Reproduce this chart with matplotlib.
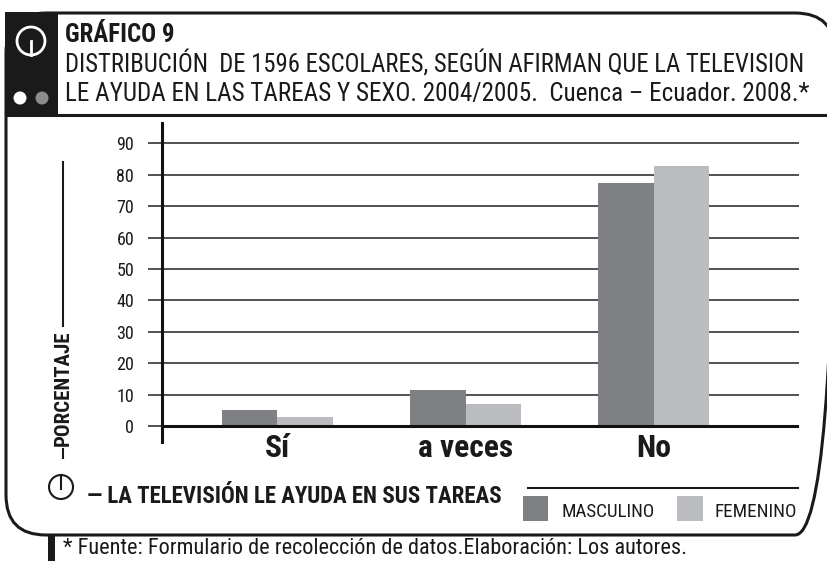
import matplotlib
matplotlib.use('Agg')
import matplotlib.pyplot as plt
from matplotlib import font_manager
from matplotlib.patches import FancyBboxPatch, Rectangle, Circle
import numpy as np

categories = ['Sí', 'a veces', 'No']
masculino = [5.1, 11.4, 77.5]
femenino = [2.9, 7.0, 82.9]
series_labels = ['MASCULINO', 'FEMENINO']
yticks = [0, 10, 20, 30, 40, 50, 60, 70, 80, 90]
title1 = 'GRÁFICO 9'
title2 = 'DISTRIBUCIÓN  DE 1596 ESCOLARES, SEGÚN AFIRMAN QUE LA TELEVISION'
title3 = 'LE AYUDA EN LAS TAREAS Y SEXO. 2004/2005.  Cuenca – Ecuador. 2008.*'
ylabel = 'PORCENTAJE'
xlabel = '— LA TELEVISIÓN LE AYUDA EN SUS TAREAS'
footnote = '* Fuente: Formulario de recolección de datos.Elaboración: Los autores.'

C_M = '#7f8084'
C_F = '#bbbcbf'

names = {f.name for f in font_manager.fontManager.ttflist}
FONT = 'Roboto'
for cand in ['Roboto Condensed', 'Liberation Sans Narrow', 'Open Sans Condensed', 'Roboto']:
    if cand in names:
        FONT = cand
        break
plt.rcParams['font.family'] = [FONT, 'DejaVu Sans']

W, H = 828, 561
fig = plt.figure(figsize=(8.28, 5.61), dpi=100)
bg = fig.add_axes([0, 0, 1, 1])
bg.set_xlim(0, W)
bg.set_ylim(H, 0)
bg.axis('off')

INK = '#1a1a1a'
# frame
frame = FancyBboxPatch((6, 13), 835 - 6, 535 - 13,
                       boxstyle='round,pad=0,rounding_size=40',
                       fc='none', ec=INK, lw=2.2)
bg.add_patch(frame)
bg.plot([6, 835], [115, 115], color=INK, lw=2.2)
bg.add_patch(Rectangle((5, 12), 53, 103, fc=INK, ec='none'))
bg.add_patch(Circle((31, 41), 14, fc='none', ec='white', lw=2))
bg.plot([31, 31], [41, 55], color='white', lw=2)
bg.add_patch(Circle((20, 98), 6.5, fc='white', ec='none'))
bg.add_patch(Circle((42, 98), 6.5, fc='#8c8c8c', ec='none'))

t1 = bg.text(65, 42, title1, fontsize=15, fontweight='bold', color=INK, va='baseline')
t2 = bg.text(65, 72, title2, fontsize=14, color=INK, va='baseline')
t3 = bg.text(65, 101, title3, fontsize=14, color=INK, va='baseline')

# y label decoration
bg.plot([63, 63], [162, 326], color=INK, lw=1.5)
bg.plot([63, 63], [449, 458], color=INK, lw=1.5)
ty = bg.text(63, 388, ylabel, rotation=90, fontsize=12, fontweight='bold',
             color=INK, ha='center', va='center')
bg.add_patch(Circle((61, 487), 12, fc='none', ec=INK, lw=1.5))
bg.plot([61, 61], [475, 489], color=INK, lw=1.5)
tx = bg.text(87, 503, xlabel, fontsize=13, fontweight='bold', color=INK, va='baseline')

# legend
bg.plot([528, 798], [488, 488], color=INK, lw=1.5)
bg.add_patch(Rectangle((523, 496), 25, 25, fc=C_M, ec='none'))
bg.add_patch(Rectangle((677, 496), 26, 25, fc=C_F, ec='none'))
tl1 = bg.text(562, 517, series_labels[0], fontsize=12, color=INK, va='baseline')
tl2 = bg.text(715, 517, series_labels[1], fontsize=12, color=INK, va='baseline')

# footnote
bg.add_patch(Rectangle((48, 536), 7, 30, fc=INK, ec='none'))
tf = bg.text(63, 554, footnote, fontsize=11, color=INK, va='baseline')

# main axes
ax = fig.add_axes([162 / W, 1 - 442 / H, (799 - 162) / W, (442 - 123) / H])
ax.set_facecolor('none')
x = np.arange(len(categories))
bw = 0.295
ax.bar(x - bw / 2, masculino, bw, color=C_M, zorder=3)
ax.bar(x + bw / 2, femenino, bw, color=C_F, zorder=3)
ax.set_xlim(-0.612, 2.771)
ax.set_ylim(-5.1, 96.5)
ax.set_yticks(yticks)
ax.set_yticklabels([str(v) for v in yticks])
ax.tick_params(axis='y', direction='out', length=10, width=1.2, color='#333333',
               pad=10, labelsize=13, labelcolor=INK)
ax.set_xticks([])
ax.yaxis.grid(True, color='#333333', lw=1.2, zorder=1)
ax.axhline(0, color='#111111', lw=2.2, zorder=4)
for s in ['top', 'right', 'bottom']:
    ax.spines[s].set_visible(False)
ax.spines['left'].set_color('#111111')
ax.spines['left'].set_linewidth(2.2)
xt = []
for i, c in enumerate(categories):
    xt.append(ax.text(x[i], -9.9, c, ha='center', va='baseline', fontsize=20,
                      fontweight='bold', color=INK, clip_on=False))

fig.canvas.draw()
r = fig.canvas.get_renderer()

def fit(t, target, use_height=False):
    bb = t.get_window_extent(r)
    cur = bb.height if use_height else bb.width
    t.set_fontsize(t.get_fontsize() * target / cur)

fit(t1, 110)
fit(t2, 743)
fit(t3, 747)
fit(ty, 115, use_height=True)
fit(tx, 413)
fit(tl1, 93)
fit(tl2, 82)
fit(tf, 624)
fit(xt[1], 95)
for t in (xt[0], xt[2]):
    t.set_fontsize(xt[1].get_fontsize())

fig.savefig('out.png', dpi=100)
